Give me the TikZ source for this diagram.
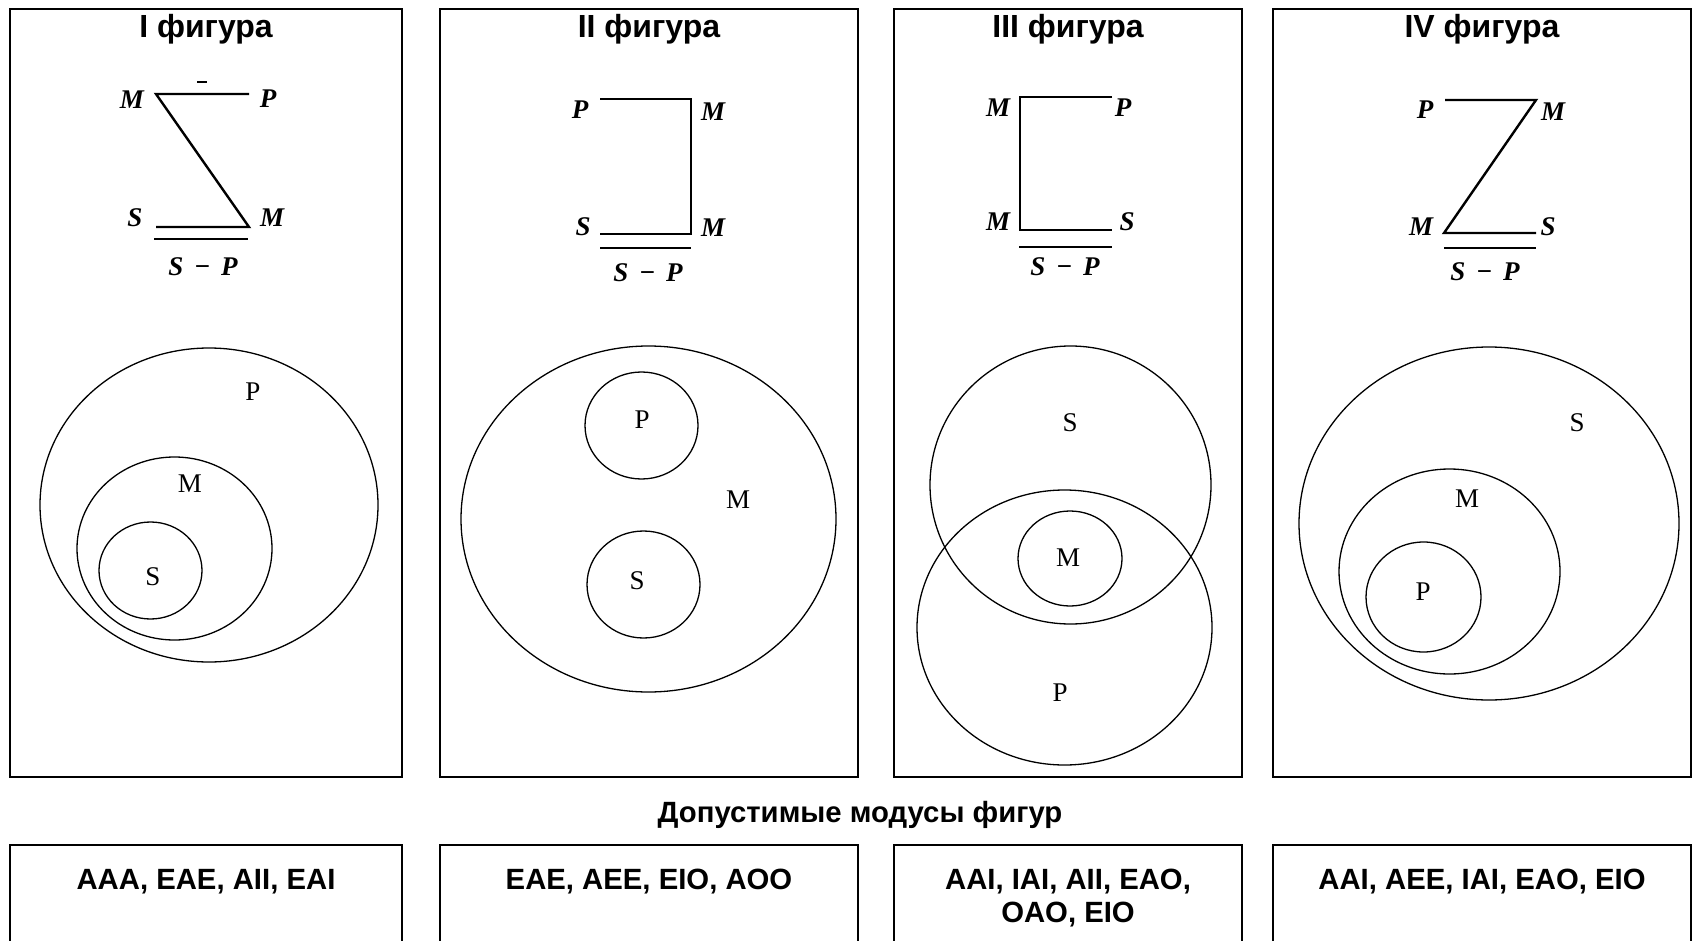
\documentclass[tikz,border=0pt]{standalone}
\usepackage{fontspec}
\setmainfont{Liberation Serif}
\newfontfamily\headfont{Liberation Sans}
\begin{document}
\begin{tikzpicture}[x=1pt,y=-1pt,
  panel/.style={draw, line width=1.8pt},
  head/.style={font=\headfont\bfseries\fontsize{29.3}{33}\selectfont, inner sep=0pt, anchor=base},
  title/.style={head, font=\headfont\bfseries\fontsize{32}{36}\selectfont},
  term/.style={font=\bfseries\itshape\fontsize{27}{29}\selectfont, inner sep=0pt},
  link/.style={line width=2.4pt},
  venn/.style={draw, line width=1.3pt},
  vlabel/.style={font=\fontsize{27}{29}\selectfont, inner sep=0pt}]
\useasboundingbox (0,0) rectangle (1693,941);

% ---------- panels ----------
\draw[panel] (10,9) rectangle (402,777);
\draw[panel] (440,9) rectangle (858,777);
\draw[panel] (894,9) rectangle (1242,777);
\draw[panel] (1273,9) rectangle (1691,777);

\node[title] (h1) at (206,38) {I фигура};
\node[title] (h2) at (649,38) {II фигура};
\node[title] (h3) at (1068,38) {III фигура};
\node[title] (h4) at (1482,38) {IV фигура};

% ---------- figure I scheme ----------
\node[term] (m1a) at (132,100) {M};
\node[term] (p1) at (268,99) {P};
\node[term] (s1) at (135,218) {S};
\node[term] (m1b) at (272,218) {M};
\coordinate (a1) at (156,94);
\coordinate (b1) at (249,94);
\coordinate (c1) at (156,227);
\coordinate (d1) at (249,227);
\draw[link] (b1) -- (a1) -- (d1) -- (c1);
\coordinate (e1) at (154,239);
\coordinate (f1) at (248,239);
\draw[link] (e1) -- (f1);
\coordinate (t1a) at (197,82);
\coordinate (t1b) at (207,82);
\draw[line width=1.5pt] (t1a) -- (t1b);
\node[term] (sp1) at (203,267) {S\hspace{0.4em}−\hspace{0.4em}P};

% ---------- figure II scheme ----------
\node[term] (p2) at (580,110) {P};
\node[term] (m2a) at (713,112) {M};
\node[term] (s2) at (583,227) {S};
\node[term] (m2b) at (713,228) {M};
\coordinate (a2) at (600,99);
\coordinate (b2) at (691,99);
\coordinate (c2) at (600,234);
\coordinate (d2) at (691,234);
\draw[link] (a2) -- (b2) -- (d2) -- (c2);
\coordinate (e2) at (600,248);
\coordinate (f2) at (691,248);
\draw[link] (e2) -- (f2);
\node[term] (sp2) at (648,273) {S\hspace{0.4em}−\hspace{0.4em}P};

% ---------- figure III scheme ----------
\node[term] (m3a) at (998,108) {M};
\node[term] (p3) at (1123,108) {P};
\node[term] (m3b) at (998,222) {M};
\node[term] (s3) at (1127,222) {S};
\coordinate (a3) at (1020,97);
\coordinate (b3) at (1112,97);
\coordinate (c3) at (1020,230);
\coordinate (d3) at (1112,230);
\draw[link] (b3) -- (a3) -- (c3) -- (d3);
\coordinate (e3) at (1019,247);
\coordinate (f3) at (1112,247);
\draw[link] (e3) -- (f3);
\node[term] (sp3) at (1065,267) {S\hspace{0.4em}−\hspace{0.4em}P};

% ---------- figure IV scheme ----------
\node[term] (p4) at (1425,110) {P};
\node[term] (m4a) at (1553,112) {M};
\node[term] (m4b) at (1421,227) {M};
\node[term] (s4) at (1548,227) {S};
\coordinate (a4) at (1445,100);
\coordinate (b4) at (1536,100);
\coordinate (c4) at (1444,233);
\coordinate (d4) at (1536,233);
\draw[link] (a4) -- (b4) -- (c4) -- (d4);
\coordinate (e4) at (1444,248);
\coordinate (f4) at (1536,248);
\draw[link] (e4) -- (f4);
\node[term] (sp4) at (1485,272) {S\hspace{0.4em}−\hspace{0.4em}P};

% ---------- Euler circles ----------
% I: S inside M inside P
\draw[venn] (209,505) ellipse [x radius=169pt, y radius=157pt];
\draw[venn] (174.5,548.5) ellipse [x radius=97.5pt, y radius=91.5pt];
\draw[venn] (150.5,570.5) ellipse [x radius=51.5pt, y radius=48.5pt];
\node[vlabel] (vp1) at (253,392) {P};
\node[vlabel] (vm1) at (190,484) {M};
\node[vlabel] (vs1) at (153,577) {S};

% II: P and S apart inside M
\draw[venn] (648.5,519) ellipse [x radius=187.5pt, y radius=173pt];
\draw[venn] (641.5,425.5) ellipse [x radius=56.5pt, y radius=53.5pt];
\draw[venn] (643.5,584.5) ellipse [x radius=56.5pt, y radius=53.5pt];
\node[vlabel] (vp2) at (642,420) {P};
\node[vlabel] (vm2) at (738,500) {M};
\node[vlabel] (vs2) at (637,581) {S};

% III: S and P overlap, M in the overlap
\draw[venn] (1070.5,485) ellipse [x radius=140.5pt, y radius=139pt];
\draw[venn] (1064.5,627.5) ellipse [x radius=147.5pt, y radius=137.5pt];
\draw[venn] (1070,558.5) ellipse [x radius=52pt, y radius=47.5pt];
\node[vlabel] (vs3) at (1070,423) {S};
\node[vlabel] (vm3) at (1068,558) {M};
\node[vlabel] (vp3) at (1060,693) {P};

% IV: P inside M inside S
\draw[venn] (1489,523.5) ellipse [x radius=190pt, y radius=176.5pt];
\draw[venn] (1449.5,571.5) ellipse [x radius=110.5pt, y radius=102.5pt];
\draw[venn] (1423.5,597) ellipse [x radius=57.5pt, y radius=55pt];
\node[vlabel] (vs4) at (1577,423) {S};
\node[vlabel] (vm4) at (1467,499) {M};
\node[vlabel] (vp4) at (1423,592) {P};

% ---------- valid moods ----------
\node[head] (moods) at (860,822) {Допустимые модусы фигур};

\draw[panel] (10,942) |- (402,845) -- (402,942);
\draw[panel] (440,942) |- (858,845) -- (858,942);
\draw[panel] (894,942) |- (1242,845) -- (1242,942);
\draw[panel] (1273,942) |- (1691,845) -- (1691,942);

\node[head] (md1) at (206,889) {AAA, EAE, AII, EAI};
\node[head] (md2) at (649,889) {EAE, AEE, EIO, AOO};
\node[head] (md3a) at (1068,889) {AAI, IAI, AII, EAO,};
\node[head] (md3b) at (1068,922) {OAO, EIO};
\node[head] (md4) at (1482,889) {AAI, AEE, IAI, EAO, EIO};
\end{tikzpicture}
\end{document}
